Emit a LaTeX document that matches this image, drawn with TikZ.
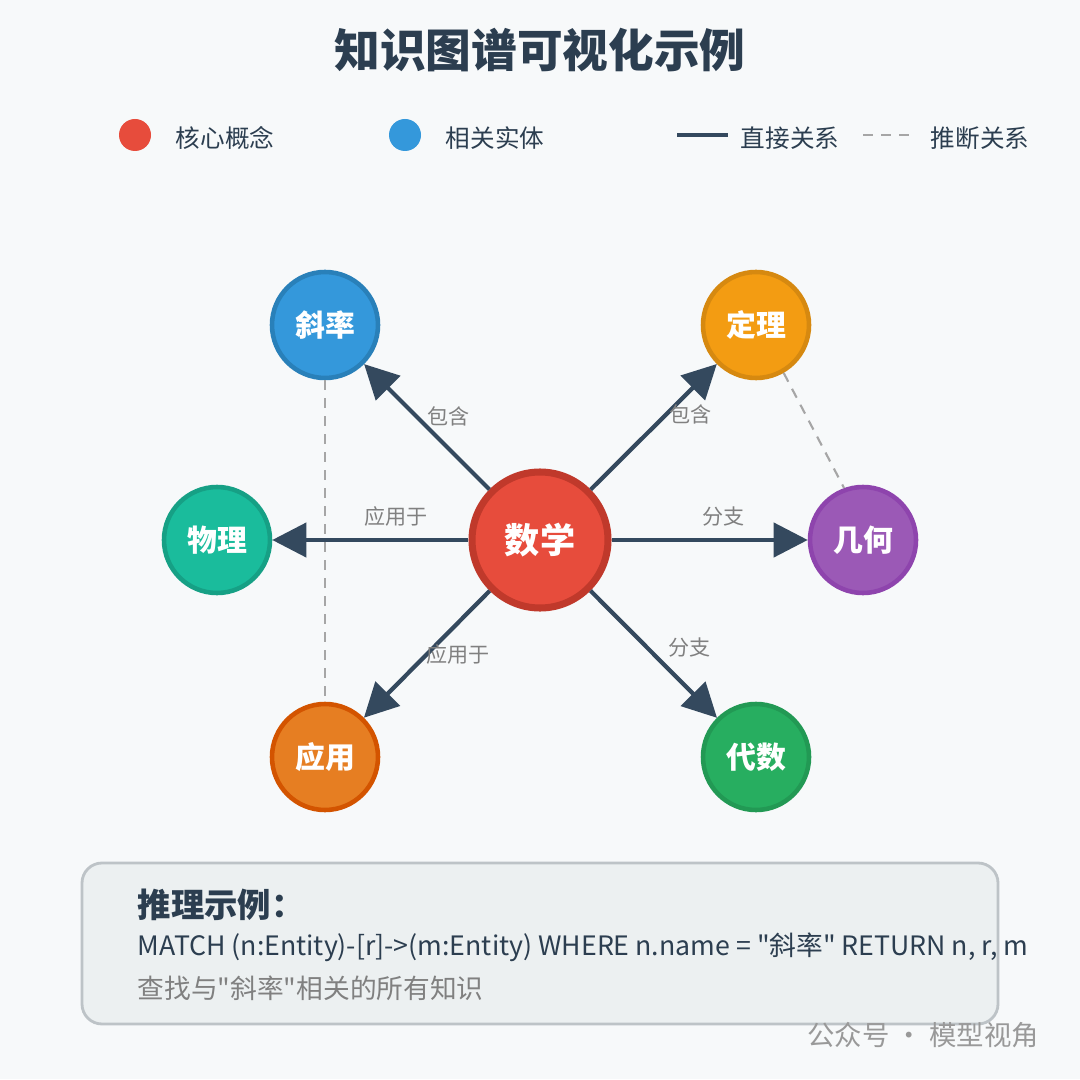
\documentclass[tikz,border=0pt]{standalone}
\usepackage{fontspec}
\setmainfont{Noto Sans CJK SC}
\newfontfamily\plainfont{Noto Sans CJK SC}
\usepackage{xcolor}
\usetikzlibrary{arrows.meta}
\definecolor{dark}{HTML}{2C3E50}
\definecolor{edge}{HTML}{34495E}
\definecolor{bg}{HTML}{F7F9FA}
\definecolor{redf}{HTML}{E74C3C}\definecolor{redd}{HTML}{C0392B}
\definecolor{bluef}{HTML}{3498DB}\definecolor{blued}{HTML}{2980B9}
\definecolor{orgf}{HTML}{F39C12}\definecolor{orgd}{HTML}{D68910}
\definecolor{tealf}{HTML}{1ABC9C}\definecolor{teald}{HTML}{16A085}
\definecolor{purf}{HTML}{9B59B6}\definecolor{purd}{HTML}{8E44AD}
\definecolor{carf}{HTML}{E67E22}\definecolor{card}{HTML}{D35400}
\definecolor{grnf}{HTML}{27AE60}\definecolor{grnd}{HTML}{229954}
\definecolor{boxf}{HTML}{ECF0F1}\definecolor{boxd}{HTML}{BDC3C7}
\tikzset{
  ent/.style={circle, minimum size=1.06cm, line width=1.3pt, text=white, font=\fontsize{8.5}{10}\selectfont\bfseries},
  rel/.style={edge, line width=1.2pt, -{Triangle[length=3.4mm,width=3.4mm]}},
  infer/.style={gray!70, line width=0.6pt, dash pattern=on 1mm off 0.8mm},
  lbl/.style={gray, font=\fontsize{6}{7}\selectfont},
  legtext/.style={text=dark, font=\fontsize{7}{8}\selectfont},
}
\begin{document}
\begin{tikzpicture}
  \fill[bg] (0,0) rectangle (10.8,10.79);
  \useasboundingbox (0,0) rectangle (10.8,10.79);
  % title
  \node[text=dark, font=\fontsize{13}{15}\selectfont\bfseries] (title) at (5.4,10.29) {知识图谱可视化示例};
  % legend
  \fill[redf] (1.35,9.44) circle (0.16);
  \node[legtext] (lg1) at (2.25,9.41) {核心概念};
  \fill[bluef] (4.05,9.44) circle (0.16);
  \node[legtext] (lg2) at (4.95,9.41) {相关实体};
  \draw[edge, line width=1.2pt] (6.77,9.44) -- (7.28,9.44);
  \node[legtext] (lg3) at (7.9,9.41) {直接关系};
  \draw[infer] (8.63,9.44) -- (9.12,9.44);
  \node[legtext] (lg4) at (9.8,9.41) {推断关系};
  % nodes
  \node[ent, minimum size=1.36cm, fill=redf, draw=redd, line width=2pt, font=\fontsize{10}{12}\selectfont\bfseries] (math) at (5.4,5.39) {数学};
  \node[ent, fill=bluef, draw=blued] (slope) at (3.25,7.54) {斜率};
  \node[ent, fill=orgf, draw=orgd] (thm) at (7.56,7.54) {定理};
  \node[ent, fill=tealf, draw=teald] (phys) at (2.17,5.39) {物理};
  \node[ent, fill=purf, draw=purd] (geo) at (8.63,5.39) {几何};
  \node[ent, fill=carf, draw=card] (app) at (3.25,3.22) {应用};
  \node[ent, fill=grnf, draw=grnd] (alg) at (7.56,3.22) {代数};
  % inferred links
  \draw[infer] (slope) -- (app);
  \draw[infer] (thm.300) -- (geo.110);
  % direct links
  \draw[rel] (math) -- (slope) node[lbl, pos=0.58, right=-1pt] {包含};
  \draw[rel] (math) -- (thm) node[lbl, pos=0.6, right=-3pt] {包含};
  \draw[rel] (math) -- (phys) node[lbl, pos=0.37, above] {应用于};
  \draw[rel] (math) -- (geo) node[lbl, pos=0.57, above] {分支};
  \draw[rel] (math) -- (app) node[lbl, pos=0.5, right=-4pt] {应用于};
  \draw[rel] (math) -- (alg) node[lbl, pos=0.45, right=2pt] {分支};
  % example box
  \node[draw=boxd, line width=0.8pt, fill=boxf, rounded corners=0.2cm, minimum width=9.16cm, minimum height=1.61cm] (box) at (5.4,1.355) {};
  \node[anchor=west, inner sep=0pt, text=dark, font=\fontsize{9.5}{11}\selectfont\bfseries] (boxhead) at (1.37,1.74) {推理示例：};
  \node[anchor=west, inner sep=0pt, text=dark, font=\plainfont\fontsize{7.6}{9}\selectfont] (query) at (1.37,1.32) {MATCH (n:Entity)-[r]->(m:Entity) WHERE n.name = "斜率" RETURN n, r, m};
  \node[anchor=west, inner sep=0pt, text=gray, font=\plainfont\fontsize{7.6}{9}\selectfont] (desc) at (1.37,0.91) {查找与"斜率"相关的所有知识};
  % watermark
  \node[anchor=west, text=gray!80, font=\fontsize{7.8}{9}\selectfont] (mark) at (7.95,0.44) {公众号 · 模型视角};
\end{tikzpicture}
\end{document}
